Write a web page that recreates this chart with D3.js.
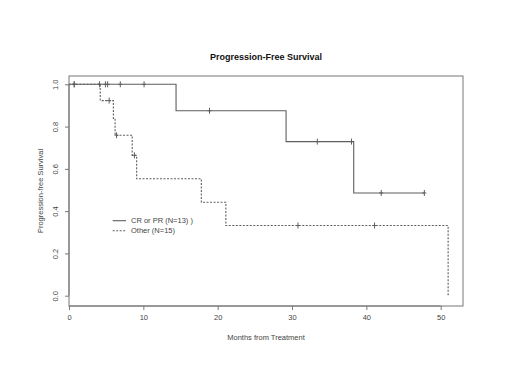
<!DOCTYPE html>
<html>
<head>
<meta charset="utf-8">
<script src="https://cdn.jsdelivr.net/npm/d3@7"></script>
<style>
  body { margin: 0; background: #fff; }
  text { font-family: "Liberation Sans", Arial, sans-serif; fill: #444; }
</style>
</head>
<body>
<div id="chart"></div>
<script>
// chart data
var crTimes = [0, 14.4, 29.2, 38.3];
var crSurv = [1, 0.875, 0.729, 0.486];
var crEnd = 47.8;
var crCensor = [0.7, 4.9, 5.2, 6.9, 10.1, 18.9, 33.4, 38.0, 42.0, 47.8];

var otherTimes = [0, 4.2, 5.97, 6.2, 8.5, 9.1, 17.8, 21.1, 51.0];
var otherSurv = [1, 0.923, 0.839, 0.759, 0.664, 0.553, 0.442, 0.332, 0];
var otherEnd = 51.0;
var otherCensor = [0.7, 4.1, 5.4, 6.4, 8.8, 30.8, 41.1];

var xTicks = [0, 10, 20, 30, 40, 50];
var yTicks = [0, 0.2, 0.4, 0.6, 0.8, 1.0];
var legendLabels = ["CR or PR (N=13) )", "Other (N=15)"];

var svgWidth = 520;
var svgHeight = 390;

// plot box
var box = { left: 69, right: 463, top: 76, bottom: 306 };

var svg = d3.select("#chart")
  .append("svg")
  .attr("width", svgWidth)
  .attr("height", svgHeight);

var xScale = d3.scaleLinear()
  .domain([0, 53])
  .range([box.left, box.right]);

var yScale = d3.scaleLinear()
  .domain([0, 1])
  .range([295.7, 84.3]);

var lineCol = "#5e5e5e";

// title
svg.append("text")
  .attr("x", 266)
  .attr("y", 60)
  .attr("text-anchor", "middle")
  .style("font-size", "9px")
  .style("font-weight", "bold")
  .style("fill", "#111")
  .text("Progression-Free Survival");

// box
svg.append("rect")
  .attr("x", box.left)
  .attr("y", box.top)
  .attr("width", box.right - box.left)
  .attr("height", box.bottom - box.top)
  .attr("fill", "none")
  .attr("stroke", "#777")
  .attr("stroke-width", 1);

// x axis
var xAxis = svg.append("g")
  .attr("transform", `translate(0, ${box.bottom})`)
  .call(d3.axisBottom(xScale).tickValues(xTicks).tickSize(4).tickPadding(5).tickFormat(d3.format("d")));

// y axis
var yAxis = svg.append("g")
  .attr("transform", `translate(${box.left}, 0)`)
  .call(d3.axisLeft(yScale).tickValues(yTicks).tickSize(4).tickPadding(0).tickFormat(d3.format(".1f")));

[xAxis, yAxis].forEach(function(ax) {
  ax.select(".domain").attr("stroke", "#777");
  ax.selectAll(".tick line").attr("stroke", "#777");
  ax.selectAll(".tick text")
    .style("font-size", "7.5px")
    .style("font-family", "'Liberation Sans', Arial, sans-serif")
    .attr("fill", "#444");
});

// x axis domain only spans first to last tick (R style)
xAxis.select(".domain").attr("d", `M${xScale(0)},0H${xScale(50)}`);
yAxis.select(".domain").attr("d", `M0,${yScale(0)}V${yScale(1)}`);

// rotate y tick labels
yAxis.selectAll(".tick text")
  .attr("text-anchor", "middle")
  .attr("x", 0)
  .attr("dy", 0)
  .attr("transform", "translate(-11,0) rotate(-90)");

// axis titles
svg.append("text")
  .attr("x", 266)
  .attr("y", 340)
  .attr("text-anchor", "middle")
  .style("font-size", "7.5px")
  .text("Months from Treatment");

svg.append("text")
  .attr("transform", "translate(43, 191) rotate(-90)")
  .attr("text-anchor", "middle")
  .style("font-size", "7.5px")
  .text("Progression-free Survival");

// step paths
function stepPoints(times, surv, end) {
  var pts = times.map((t, i) => [t, surv[i]]);
  if (end > times[times.length - 1]) pts.push([end, surv[surv.length - 1]]);
  return pts;
}

function survAt(times, surv, t) {
  var s = surv[0];
  for (var i = 0; i < times.length; i++) {
    if (times[i] <= t) s = surv[i];
  }
  return s;
}

var line = d3.line()
  .x(d => xScale(d[0]))
  .y(d => yScale(d[1]))
  .curve(d3.curveStepAfter);

svg.append("path")
  .datum(stepPoints(crTimes, crSurv, crEnd))
  .attr("d", line)
  .attr("fill", "none")
  .attr("stroke", lineCol)
  .attr("stroke-width", 1.1);

svg.append("path")
  .datum(stepPoints(otherTimes, otherSurv, otherEnd))
  .attr("d", line)
  .attr("fill", "none")
  .attr("stroke", lineCol)
  .attr("stroke-width", 1.1)
  .attr("stroke-dasharray", "2,1.5");

// censor marks "+"
function drawCensor(censor, times, surv) {
  svg.selectAll(null)
    .data(censor)
    .enter()
    .append("path")
    .attr("d", function(t) {
      var cx = xScale(t), cy = yScale(survAt(times, surv, t));
      return `M${cx},${cy - 3}V${cy + 3}M${cx - 2},${cy}H${cx + 2}`;
    })
    .attr("stroke", lineCol)
    .attr("stroke-width", 1);
}
drawCensor(crCensor, crTimes, crSurv);
drawCensor(otherCensor, otherTimes, otherSurv);

// legend
var legend = svg.append("g");
legendLabels.forEach(function(lbl, i) {
  var ly = 220.7 + i * 10;
  legend.append("line")
    .attr("x1", 112.7)
    .attr("x2", 126)
    .attr("y1", ly)
    .attr("y2", ly)
    .attr("stroke", lineCol)
    .attr("stroke-width", 1.1)
    .attr("stroke-dasharray", i === 0 ? null : "2,1.5");
  legend.append("text")
    .attr("x", 131)
    .attr("y", ly + 2.6)
    .style("font-size", "7.5px")
    .text(lbl);
});
</script>
</body>
</html>
